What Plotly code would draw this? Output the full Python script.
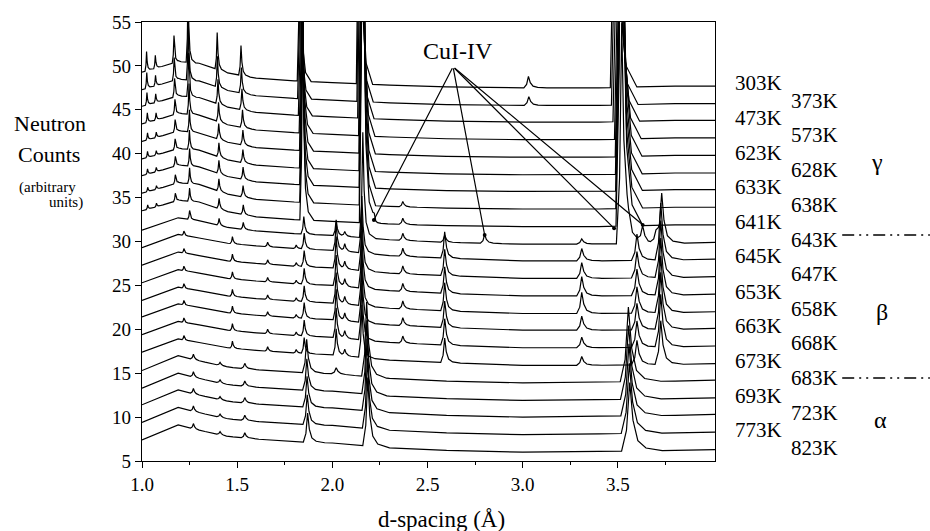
import numpy as np
import plotly.graph_objects as go

# ---------------- data ----------------
TEMPS = ["303K", "373K", "473K", "573K", "623K", "628K", "633K", "638K", "641K",
         "643K", "645K", "647K", "653K", "658K", "663K", "668K", "673K",
         "683K", "693K", "723K", "773K", "823K"]
# level of each pattern (counts) near d = 3.4 A
LEVELS = [47.5, 45.5, 43.6, 41.6, 39.6, 37.6, 35.7, 33.7, 31.7, 29.7, 27.8,
          25.8, 23.8, 21.8, 19.9, 17.9, 15.9, 13.9, 11.9, 10.0, 8.0, 6.0]
PHASES = ["gamma"] * 9 + ["mixed"] + ["beta"] * 7 + ["alpha"] * 5

# background (above the level) at these d-spacings
BG_D = [1.0, 1.1, 1.19, 1.3, 1.45, 1.6, 1.8, 2.0, 2.3, 2.6, 3.0, 3.4, 3.8, 4.01]
BG_GAMMA = [1.8, 2.4, 3.0, 2.8, 1.7, 1.1, 0.8, 0.6, 0.3, 0.1, 0.0, 0.0, 0.2, 0.2]
BG_MIXED = [1.6, 2.3, 3.0, 2.7, 1.9, 1.5, 1.2, 1.0, 0.5, 0.2, 0.0, 0.0, 0.1, 0.2]
BG_BETA = [1.5, 2.3, 3.0, 2.6, 2.0, 1.7, 1.4, 1.2, 0.6, 0.3, 0.0, 0.0, 0.1, 0.2]
BG_ALPHA = [1.4, 2.3, 3.1, 2.5, 1.8, 1.5, 1.2, 1.05, 0.5, 0.2, 0.0, 0.1, 0.2, 0.3]

# Bragg peaks per pattern: (d-spacing, height above background)
P303 = [(1.024, 2.2), (1.070, 1.5), (1.168, 3.1), (1.242, 9.0), (1.395, 4.2), (1.520, 3.4),
        (1.830, 25), (2.143, 60), (3.030, 1.3), (3.488, 60)]
P373 = [(1.025, 1.8), (1.071, 1.2), (1.169, 2.6), (1.243, 7.0), (1.396, 3.5), (1.522, 2.9),
        (1.832, 25), (2.146, 60), (3.032, 1.0), (3.494, 60)]
P473 = [(1.026, 1.4), (1.072, 1.0), (1.171, 2.1), (1.245, 5.0), (1.399, 2.8), (1.525, 2.4),
        (1.836, 25), (2.150, 60), (3.502, 60)]
P573 = [(1.028, 1.1), (1.074, 0.8), (1.173, 1.7), (1.247, 3.5), (1.402, 2.2), (1.528, 2.0),
        (1.840, 25), (2.155, 60), (3.510, 60)]
P623 = [(1.029, 0.8), (1.075, 0.6), (1.174, 1.4), (1.249, 2.5), (1.403, 1.8), (1.530, 1.7),
        (1.842, 25), (2.157, 60), (3.514, 60)]
P628 = [(1.029, 0.7), (1.075, 0.5), (1.174, 1.2), (1.249, 2.2), (1.404, 1.6), (1.530, 1.5),
        (1.842, 25), (2.157, 60), (3.515, 60)]
P633 = [(1.029, 0.6), (1.075, 0.5), (1.175, 1.1), (1.250, 2.0), (1.404, 1.5), (1.531, 1.4),
        (1.843, 25), (2.158, 60), (3.516, 60)]
P638 = [(1.030, 0.5), (1.076, 0.4), (1.175, 1.0), (1.250, 1.8), (1.404, 1.4), (1.531, 1.3),
        (1.843, 25), (2.158, 60), (2.370, 0.6), (3.517, 60)]
P641 = [(1.030, 0.5), (1.076, 0.4), (1.175, 0.9), (1.250, 1.5), (1.405, 1.2), (1.532, 1.1),
        (1.844, 24), (2.159, 60), (2.220, 0.6), (2.370, 0.7), (3.518, 60)]
P643 = [(1.250, 1.0), (1.405, 0.8), (1.532, 0.8), (1.850, 2.0), (2.020, 1.8), (2.065, 0.5),
        (2.160, 12), (2.370, 0.8), (2.590, 0.8), (2.800, 1.0), (3.310, 0.6), (3.520, 25),
        (3.545, 2.2), (3.630, 2.0), (3.700, 1.5), (3.730, 5.5)]
P645 = [(1.220, 0.5), (1.475, 0.8), (1.660, 0.5), (1.810, 0.4), (1.852, 1.8), (2.020, 3.2),
        (2.065, 0.8), (2.155, 6.5), (2.370, 0.9), (2.590, 3.0), (3.310, 1.4), (3.600, 3.0),
        (3.725, 6.5)]
P647 = [(1.220, 0.5), (1.475, 0.8), (1.660, 0.5), (1.810, 0.4), (1.852, 1.8), (2.020, 3.6),
        (2.065, 0.8), (2.155, 6.5), (2.370, 0.9), (2.590, 3.0), (3.310, 1.8), (3.600, 3.0),
        (3.725, 6.5)]
P653 = [(1.220, 0.5), (1.475, 0.8), (1.660, 0.5), (1.810, 0.4), (1.852, 1.8), (2.020, 3.5),
        (2.065, 0.8), (2.155, 6.5), (2.370, 0.9), (2.590, 3.0), (3.310, 2.2), (3.600, 3.0),
        (3.725, 6.5)]
P658 = [(1.220, 0.5), (1.475, 0.8), (1.660, 0.5), (1.810, 0.4), (1.852, 1.8), (2.020, 3.5),
        (2.065, 0.8), (2.155, 6.5), (2.370, 0.9), (2.590, 3.2), (3.310, 2.4), (3.600, 3.0),
        (3.725, 6.5)]
P663 = [(1.220, 0.5), (1.475, 0.8), (1.660, 0.5), (1.810, 0.4), (1.852, 1.8), (2.020, 3.5),
        (2.065, 0.8), (2.155, 6.5), (2.370, 0.9), (2.590, 3.0), (3.310, 1.6), (3.600, 3.0),
        (3.725, 6.5)]
P668 = [(1.220, 0.5), (1.475, 0.8), (1.660, 0.5), (1.810, 0.4), (1.852, 1.8), (2.020, 3.4),
        (2.065, 0.8), (2.155, 6.5), (2.370, 0.8), (2.590, 3.0), (3.310, 1.2), (3.600, 3.0),
        (3.725, 6.0)]
P673 = [(1.220, 0.5), (1.475, 0.8), (1.660, 0.5), (1.810, 0.4), (1.852, 1.8), (2.020, 3.0),
        (2.065, 0.7), (2.155, 6.0), (2.590, 2.8), (3.310, 1.0), (3.600, 2.8), (3.725, 5.0)]
P683 = [(1.270, 0.6), (1.410, 0.35), (1.540, 0.6), (1.865, 3.8), (2.020, 0.7), (2.180, 8.5),
        (3.555, 8.5)]
P693 = [(1.270, 0.6), (1.410, 0.35), (1.540, 0.6), (1.866, 3.6), (2.181, 8.4), (3.556, 8.4)]
P723 = [(1.270, 0.6), (1.410, 0.35), (1.540, 0.6), (1.867, 3.5), (2.182, 8.2), (3.558, 8.2)]
P773 = [(1.270, 0.6), (1.410, 0.35), (1.540, 0.6), (1.868, 3.4), (2.184, 8.0), (3.560, 8.0)]
P823 = [(1.270, 0.6), (1.410, 0.35), (1.540, 0.6), (1.870, 3.3), (2.186, 7.8), (3.562, 7.8)]

PEAK_LISTS = [P303, P373, P473, P573, P623, P628, P633, P638, P641, P643, P645, P647,
              P653, P658, P663, P668, P673, P683, P693, P723, P773, P823]

# CuI-IV pointer: label and the four marked reflections
CUI_LABEL = "CuI-IV"
CUI_D = [2.218, 2.80, 3.48, 3.63]
CUI_Y = [32.45, 30.74, 31.5, 31.9]

X_TICKS = [1.0, 1.5, 2.0, 2.5, 3.0, 3.5]
X_TICK_TEXT = ["1.0", "1.5", "2.0", "2.5", "3.0", "3.5"]
X_MINOR = [1.25, 1.75, 2.25, 2.75, 3.25, 3.75]
Y_TICKS = [5, 10, 15, 20, 25, 30, 35, 40, 45, 50, 55]

# ---------------- styles ----------------
FONT = "Liberation Serif"
BG_BY_PHASE = {"gamma": BG_GAMMA, "mixed": BG_MIXED, "beta": BG_BETA, "alpha": BG_ALPHA}
WIDTH_BY_PHASE = {"gamma": 0.004, "mixed": 0.004, "beta": 0.004, "alpha": 0.006}
SHAPE_DX = [-2.0, -0.8, 0.0, 0.8, 2.0, 4.0, 8.0]        # in peak widths
SHAPE_FY = [0.0, 0.3, 1.0, 0.45, 0.15, 0.04, 0.0]       # fraction of peak height
XMIN, XMAX = 1.0, 4.01

fig = go.Figure()
for i, temp in enumerate(TEMPS):
    phase = PHASES[i]
    bg = LEVELS[i] + np.array(BG_BY_PHASE[phase])
    wf = WIDTH_BY_PHASE[phase]
    xs = set(BG_D)
    for p, h in PEAK_LISTS[i]:
        w = wf * p
        xs.update(p + dx * w for dx in SHAPE_DX)
    xs = np.array(sorted(x for x in xs if XMIN <= x <= XMAX))
    ys = np.interp(xs, BG_D, bg)
    for p, h in PEAK_LISTS[i]:
        w = wf * p
        ys = ys + h * np.interp((xs - p) / w, SHAPE_DX, SHAPE_FY, left=0.0, right=0.0)
    fig.add_trace(go.Scatter(x=xs, y=ys, mode="lines", name=temp,
                             line=dict(color="black", width=1.2),
                             showlegend=False, hoverinfo="skip"))

annotations = []
# temperature labels (two staggered columns)
for i, temp in enumerate(TEMPS):
    annotations.append(dict(x=1.031 if i % 2 == 0 else 1.129, xref="paper",
                            y=LEVELS[i] + 0.5, yref="y", text=temp, showarrow=False,
                            xanchor="left", yanchor="middle",
                            font=dict(family=FONT, size=21, color="black")))
# phase labels
for txt, xp, yp in [("\u03b3", 1.283, 0.681), ("\u03b2", 1.291, 0.339), ("\u03b1", 1.288, 0.093)]:
    annotations.append(dict(x=xp, y=yp, xref="paper", yref="paper", text=txt,
                            showarrow=False, xanchor="center", yanchor="middle",
                            font=dict(family=FONT, size=24, color="black")))
# CuI-IV pointer
annotations.append(dict(x=2.66, y=51.7, xref="x", yref="y", text=CUI_LABEL, showarrow=False,
                        xanchor="center", yanchor="middle",
                        font=dict(family=FONT, size=24, color="black")))
for d, yv in zip(CUI_D, CUI_Y):
    annotations.append(dict(x=d, y=yv, xref="x", yref="y", ax=2.634, ay=49.9,
                            axref="x", ayref="y", text="", showarrow=True,
                            arrowhead=6, arrowsize=0.8, arrowwidth=1.2,
                            arrowcolor="black", standoff=0, startstandoff=0))
# y-axis description
annotations += [
    dict(x=-0.16, y=43.4, xref="paper", yref="y", text="Neutron", showarrow=False,
         xanchor="center", yanchor="middle", font=dict(family=FONT, size=22, color="black")),
    dict(x=-0.163, y=39.9, xref="paper", yref="y", text="Counts", showarrow=False,
         xanchor="center", yanchor="middle", font=dict(family=FONT, size=22, color="black")),
    dict(x=-0.165, y=36.1, xref="paper", yref="y", text="(arbitrary", showarrow=False,
         xanchor="center", yanchor="middle", font=dict(family=FONT, size=15, color="black")),
    dict(x=-0.099, y=34.4, xref="paper", yref="y", text="units)", showarrow=False,
         xanchor="right", yanchor="middle", font=dict(family=FONT, size=15, color="black")),
    dict(x=0.522, y=-0.134, xref="paper", yref="paper", text="d-spacing (\u00c5)",
         showarrow=False, xanchor="center", yanchor="middle",
         font=dict(family=FONT, size=23, color="black")),
]

shapes = [
    dict(type="line", xref="paper", yref="paper", x0=1.222, x1=1.375, y0=0.515, y1=0.515,
         line=dict(color="black", width=1.5, dash="12px,5px,2px,5px,2px,5px")),
    dict(type="line", xref="paper", yref="paper", x0=1.222, x1=1.375, y0=0.189, y1=0.189,
         line=dict(color="black", width=1.5, dash="12px,5px,2px,5px,2px,5px")),
]

fig.update_layout(
    width=930, height=531,
    margin=dict(l=142, r=215, t=22, b=70),
    paper_bgcolor="white", plot_bgcolor="white",
    annotations=annotations, shapes=shapes,
    font=dict(family=FONT, color="black"),
)
fig.update_xaxes(range=[XMIN, XMAX], tickvals=X_TICKS, ticktext=X_TICK_TEXT,
                 ticks="outside", ticklen=6, tickwidth=1.2, tickcolor="black",
                 showline=True, linecolor="black", linewidth=1.3, mirror=True,
                 showgrid=False, zeroline=False,
                 tickfont=dict(family=FONT, size=19, color="black"),
                 minor=dict(tickvals=X_MINOR, ticks="outside", ticklen=3,
                            tickcolor="black", tickwidth=1))
fig.update_yaxes(range=[5, 55], tickvals=Y_TICKS,
                 ticks="outside", ticklen=6, tickwidth=1.2, tickcolor="black",
                 showline=True, linecolor="black", linewidth=1.3, mirror=True,
                 showgrid=False, zeroline=False,
                 tickfont=dict(family=FONT, size=19, color="black"))

fig.write_html("out.html", config={"displayModeBar": False},
               post_script="document.body.style.margin='0px';"
                           "document.body.style.overflow='hidden';")
